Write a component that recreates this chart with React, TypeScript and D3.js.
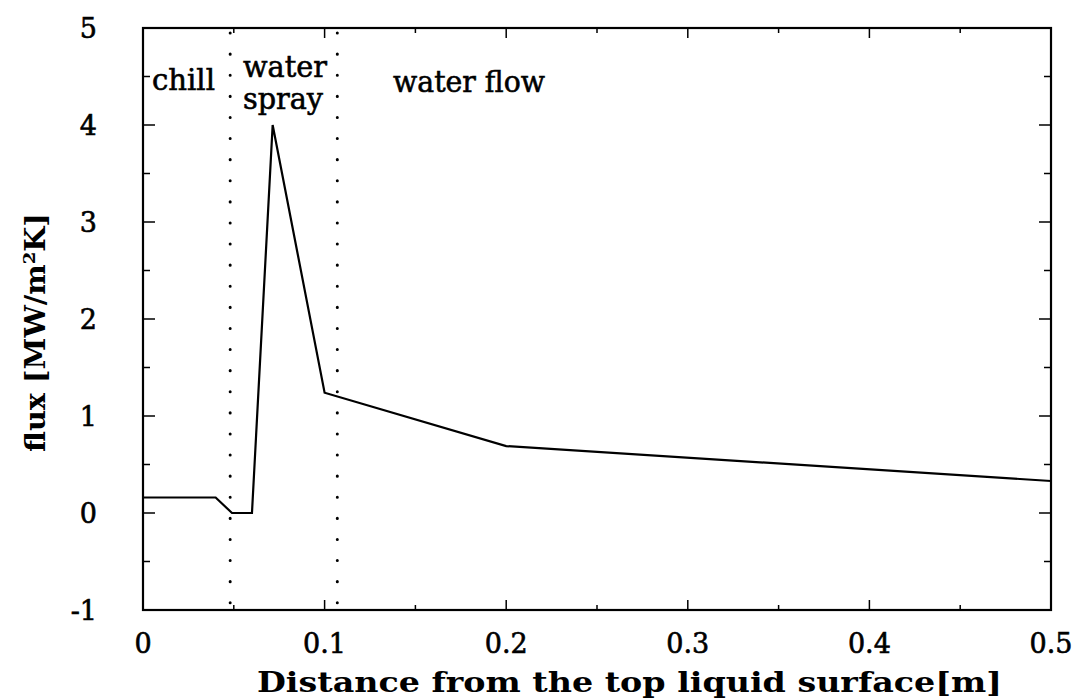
import React from "react";
import * as d3 from "d3";

const xs = [0, 0.04, 0.049, 0.06, 0.0714, 0.1, 0.2, 0.5];
const ys = [0.16, 0.16, 0, 0, 4, 1.24, 0.69, 0.33];
const xTickVals = [0, 0.1, 0.2, 0.3, 0.4, 0.5];
const xTickLabels = ["0", "0.1", "0.2", "0.3", "0.4", "0.5"];
const yTickVals = [-1, 0, 1, 2, 3, 4, 5];
const yTickLabels = ["-1", "0", "1", "2", "3", "4", "5"];
const boundaries = [0.048, 0.107];

export default function App() {
  const W = 1074, H = 699;
  const L = 143, R = 1051, T = 28, B = 610;
  const x = d3.scaleLinear().domain([0, 0.5]).range([L, R]);
  const y = d3.scaleLinear().domain([-1, 5]).range([B, T]);
  const line = d3.line<number>().x((d, i) => x(xs[i])).y((d) => y(d));
  const font = "'DejaVu Serif', serif";
  const minorX = d3.range(0, 0.5001, 0.05);
  const minorY = d3.range(-1, 5.001, 0.5);
  const majX = 10, minX = 5;
  const heavy = { stroke: "#000", strokeWidth: 0.6 };
  return (
    <svg width={W} height={H} style={{ position: "absolute", left: 0, top: 0 }} fontFamily={font}>
      <rect x={0} y={0} width={W} height={H} fill="#fff" />
      {minorX.map((v, i) => {
        const major = Math.abs(v * 10 - Math.round(v * 10)) < 1e-6;
        const len = major ? majX : minX;
        return (
          <g key={"xt" + i} stroke="#000" strokeWidth={1.5}>
            <line x1={x(v)} x2={x(v)} y1={B} y2={B - len} />
            <line x1={x(v)} x2={x(v)} y1={T} y2={T + len} />
          </g>
        );
      })}
      {minorY.map((v, i) => {
        const major = Math.abs(v - Math.round(v)) < 1e-6;
        const len = major ? majX + 2 : minX + 2;
        return (
          <g key={"yt" + i} stroke="#000" strokeWidth={1.5}>
            <line x1={L} x2={L + len} y1={y(v)} y2={y(v)} />
            <line x1={R} x2={R - len} y1={y(v)} y2={y(v)} />
          </g>
        );
      })}
      <rect x={L} y={T} width={R - L} height={B - T} fill="none" stroke="#000" strokeWidth={2.2} />
      {boundaries.map((b, i) => (
        <line key={"b" + i} x1={x(b)} x2={x(b)} y1={T + 5} y2={B - 5} stroke="#000" strokeWidth={3}
          strokeDasharray="0.1 21" strokeLinecap="round" />
      ))}
      <path d={line(ys) || ""} fill="none" stroke="#000" strokeWidth={2.2} />
      {xTickVals.map((v, i) => (
        <text key={"xl" + i} x={x(v)} y={653} textAnchor="middle" fontSize={27} {...heavy}>{xTickLabels[i]}</text>
      ))}
      {yTickVals.map((v, i) => (
        <text key={"yl" + i} x={97} y={y(v) + 10} textAnchor="end" fontSize={27} {...heavy}>{yTickLabels[i]}</text>
      ))}
      <text x={257} y={692} fontSize={27} fontWeight="bold" textLength={745} lengthAdjust="spacingAndGlyphs">Distance from the top liquid surface[m]</text>
      <text transform={`translate(45,452) rotate(-90)`} fontSize={27} fontWeight="bold" textLength={239} lengthAdjust="spacingAndGlyphs">
        flux [MW/m<tspan dy={-10} fontSize={17}>2</tspan><tspan dy={10}>K]</tspan>
      </text>
      <text x={152} y={90} fontSize={29} textLength={63} lengthAdjust="spacingAndGlyphs" {...heavy}>chill</text>
      <text x={243} y={77} fontSize={29} textLength={84} lengthAdjust="spacingAndGlyphs" {...heavy}>water</text>
      <text x={243} y={109} fontSize={29} textLength={80} lengthAdjust="spacingAndGlyphs" {...heavy}>spray</text>
      <text x={393} y={92} fontSize={29} textLength={152} lengthAdjust="spacingAndGlyphs" {...heavy}>water flow</text>
    </svg>
  );
}
